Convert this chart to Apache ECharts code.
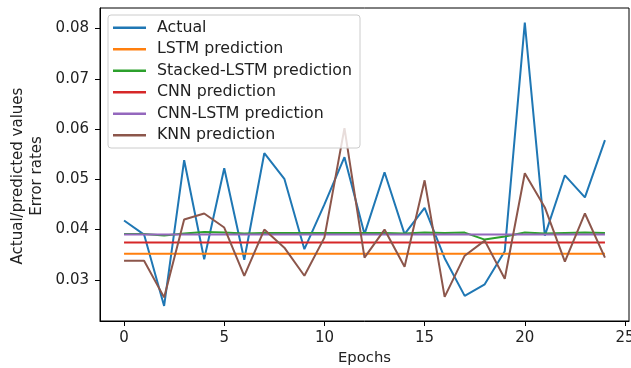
<!DOCTYPE html>
<html>
<head>
<meta charset="utf-8">
<script src="https://cdn.jsdelivr.net/npm/echarts@6/dist/echarts.min.js"></script>
<style>
  html, body { margin: 0; padding: 0; background: #fff; }
  #chart { width: 631px; height: 368px; }
</style>
</head>
<body>
<div id="chart"></div>
<script>
// epochs on the x axis
var epochs = [0, 1, 2, 3, 4, 5, 6, 7, 8, 9, 10, 11, 12, 13, 14, 15, 16, 17, 18, 19, 20, 21, 22, 23, 24];

var actual = [0.0418, 0.0390, 0.0248, 0.0538, 0.0341, 0.0522, 0.0340, 0.0552, 0.0501, 0.0361, 0.0450,
  0.0544, 0.0391, 0.0514, 0.0391, 0.0443, 0.0343, 0.0268, 0.0291, 0.0357, 0.0812, 0.0388, 0.0508, 0.0464, 0.0578];
var lstm = [0.0352, 0.0352, 0.0352, 0.0352, 0.0352, 0.0352, 0.0352, 0.0352, 0.0352, 0.0352, 0.0352,
  0.0352, 0.0352, 0.0352, 0.0352, 0.0352, 0.0352, 0.0352, 0.0352, 0.0352, 0.0352, 0.0352, 0.0352, 0.0352, 0.0352];
var stackedLstm = [0.0391, 0.0391, 0.0388, 0.0392, 0.0395, 0.0394, 0.0392, 0.0393, 0.0393, 0.0393, 0.0393,
  0.0393, 0.0393, 0.0393, 0.0392, 0.0394, 0.0393, 0.0394, 0.0380, 0.0386, 0.0394, 0.0392, 0.0393, 0.0394, 0.0393];
var cnn = [0.0374, 0.0374, 0.0374, 0.0374, 0.0374, 0.0374, 0.0374, 0.0374, 0.0374, 0.0374, 0.0374,
  0.0374, 0.0374, 0.0374, 0.0374, 0.0374, 0.0374, 0.0374, 0.0374, 0.0374, 0.0374, 0.0374, 0.0374, 0.0374, 0.0374];
var cnnLstm = [0.0390, 0.0390, 0.0390, 0.0390, 0.0390, 0.0390, 0.0390, 0.0390, 0.0390, 0.0390, 0.0390,
  0.0390, 0.0390, 0.0390, 0.0390, 0.0390, 0.0390, 0.0390, 0.0390, 0.0390, 0.0390, 0.0390, 0.0390, 0.0390, 0.0390];
var knn = [0.0338, 0.0338, 0.0265, 0.0420, 0.0432, 0.0404, 0.0308, 0.0400, 0.0364, 0.0308, 0.0384,
  0.0602, 0.0344, 0.0400, 0.0326, 0.0498, 0.0266, 0.0348, 0.0378, 0.0302, 0.0512, 0.0444, 0.0336, 0.0432, 0.0344];

var xTicks = [0, 5, 10, 15, 20, 25];
var yTicks = [0.03, 0.04, 0.05, 0.06, 0.07, 0.08];
var yTitleLines = ['Actual/predicted values', 'Error rates'];

var seriesDefs = [
  { name: 'Actual', data: actual, color: '#1f77b4' },
  { name: 'LSTM prediction', data: lstm, color: '#ff7f0e' },
  { name: 'Stacked-LSTM prediction', data: stackedLstm, color: '#2ca02c' },
  { name: 'CNN prediction', data: cnn, color: '#d62728' },
  { name: 'CNN-LSTM prediction', data: cnnLstm, color: '#9467bd' },
  { name: 'KNN prediction', data: knn, color: '#8c564b' }
];

var font = 'DejaVu Sans';
var chart = echarts.init(document.getElementById('chart'));

chart.setOption({
  animation: false,
  textStyle: { fontFamily: font },
  grid: {
    left: 100, right: 2, top: 8, bottom: 47,
    outerBoundsMode: 'none',
    show: true, borderColor: '#000', borderWidth: 1
  },
  // two-line y axis title, each line centred on the same spot
  graphic: yTitleLines.map(function (t, i) {
    return {
      type: 'text',
      x: 18 + i * 19, y: 176,
      rotation: Math.PI / 2,
      style: {
        text: t, fill: '#222', font: '15px "DejaVu Sans"',
        align: 'center', verticalAlign: 'middle'
      }
    };
  }),
  legend: {
    orient: 'vertical',
    left: 108, top: 15,
    padding: [2, 8, 2, 5],
    icon: 'rect',
    itemWidth: 33, itemHeight: 2.5, itemGap: 0,
    backgroundColor: 'rgba(255,255,255,0.8)',
    borderColor: '#cccccc', borderWidth: 1, borderRadius: 3,
    textStyle: { fontSize: 15.8, lineHeight: 21.5, color: '#222', fontFamily: font, padding: [0, 0, 0, 6] },
    data: seriesDefs.map(function (s) { return s.name; })
  },
  xAxis: {
    type: 'value',
    min: -1.2, max: 25.2,
    name: 'Epochs',
    nameLocation: 'middle',
    nameGap: 30,
    nameTextStyle: { fontSize: 14.8, color: '#222', fontFamily: font },
    splitLine: { show: false },
    axisLine: { onZero: false, lineStyle: { color: '#000' } },
    axisTick: { customValues: xTicks, length: 5, lineStyle: { color: '#000' } },
    axisLabel: { customValues: xTicks, fontSize: 15, color: '#222', margin: 10, fontFamily: font }
  },
  yAxis: {
    type: 'value',
    min: 0.0218, max: 0.0841,
    splitLine: { show: false },
    axisLine: { show: true, onZero: false, lineStyle: { color: '#000' } },
    axisTick: { show: true, customValues: yTicks, length: 5, lineStyle: { color: '#000' } },
    axisLabel: {
      customValues: yTicks, fontSize: 15, color: '#222', margin: 11, fontFamily: font,
      formatter: function (v) { return v.toFixed(2); }
    }
  },
  series: seriesDefs.map(function (s) {
    return {
      name: s.name,
      type: 'line',
      symbol: 'none',
      color: s.color,
      lineStyle: { width: 2, color: s.color },
      data: epochs.map(function (e, i) { return [e, s.data[i]]; })
    };
  })
});
</script>
</body>
</html>
